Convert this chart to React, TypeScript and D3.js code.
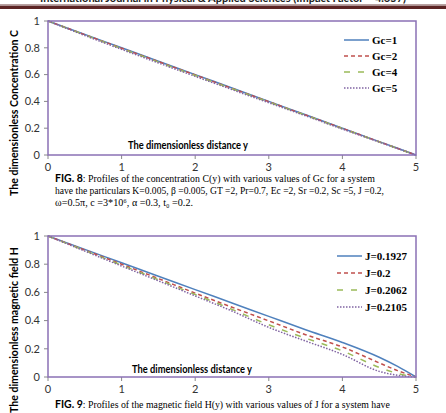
import React, { useEffect, useRef } from 'react';
import * as d3 from 'd3';

// distance y (x axis) for the concentration panel
const distanceC = [0, 0.5, 1, 1.5, 2, 2.5, 3, 3.5, 4, 4.5, 5];
const gc1 = [1, 0.9, 0.8, 0.7, 0.6, 0.5, 0.4, 0.3, 0.2, 0.1, 0];
const gc2 = [1, 0.898, 0.797, 0.697, 0.597, 0.497, 0.398, 0.298, 0.199, 0.099, 0];
const gc4 = [1, 0.896, 0.794, 0.693, 0.593, 0.494, 0.395, 0.296, 0.197, 0.098, 0];
const gc5 = [1, 0.892, 0.788, 0.687, 0.587, 0.488, 0.39, 0.292, 0.194, 0.097, 0];
const gcLabels = ['Gc=1', 'Gc=2', 'Gc=4', 'Gc=5'];

// distance y for the magnetic field panel
const distanceH = [0, 0.5, 1, 1.5, 2, 2.5, 3, 3.5, 4, 4.5, 4.75, 5];
const j1 = [1, 0.905, 0.81, 0.715, 0.62, 0.525, 0.43, 0.335, 0.245, 0.14, 0.075, 0];
const j2 = [1, 0.9, 0.8, 0.698, 0.595, 0.495, 0.398, 0.3, 0.213, 0.1, 0.045, 0];
const j3 = [1, 0.897, 0.793, 0.69, 0.585, 0.48, 0.37, 0.275, 0.185, 0.068, 0.025, 0];
const j4 = [1, 0.893, 0.787, 0.682, 0.575, 0.468, 0.352, 0.255, 0.16, 0.04, 0.012, 0];
const jLabels = ['J=0.1927', 'J=0.2', 'J=0.2062', 'J=0.2105'];

const xTicks = [0, 1, 2, 3, 4, 5];
const yTicks = [0, 0.2, 0.4, 0.6, 0.8, 1];

const colors = ['#4F81BD', '#C0504D', '#9BBB59', '#8064A2'];
const dashes = ['none', '4,3', '6,8', '1.5,1.5'];

const frameColor = '#8a70b5';
const sans = 'Lato, "Open Sans", sans-serif';
const serif = '"Liberation Serif", "DejaVu Serif", serif';

interface Panel {
  top: number;
  bottom: number;
  xs: number[];
  series: number[][];
  labels: string[];
  yTitle: string;
  yTitleCenter: number;
  legendX: number;
  legendY: number;
  legendStep: number;
  distX: number;
  distY: number;
}

function drawPanel(svg: d3.Selection<SVGSVGElement, unknown, null, undefined>, p: Panel) {
  const x = d3.scaleLinear().domain([0, 5]).range([48, 416]);
  const y = d3.scaleLinear().domain([0, 1]).range([p.bottom, p.top]);
  const g = svg.append('g');

  // y ticks
  g.selectAll('.ytick')
    .data(yTicks)
    .enter().append('line')
    .attr('x1', 44).attr('x2', 48)
    .attr('y1', d => y(d)).attr('y2', d => y(d))
    .attr('stroke', '#888').attr('stroke-width', 1);

  g.selectAll('.ylab')
    .data(yTicks)
    .enter().append('text')
    .attr('x', 40)
    .attr('y', d => y(d))
    .attr('dy', '0.35em')
    .attr('text-anchor', 'end')
    .style('font-family', sans)
    .style('font-size', '11px')
    .style('fill', '#333')
    .text(d => d3.format('')(d));

  // x ticks
  g.selectAll('.xtick')
    .data(xTicks)
    .enter().append('line')
    .attr('x1', d => x(d)).attr('x2', d => x(d))
    .attr('y1', p.bottom).attr('y2', p.bottom + 4)
    .attr('stroke', '#888').attr('stroke-width', 1);

  g.selectAll('.xlab')
    .data(xTicks)
    .enter().append('text')
    .attr('x', d => x(d))
    .attr('y', p.bottom + 12)
    .attr('dy', '0.35em')
    .attr('text-anchor', 'middle')
    .style('font-family', sans)
    .style('font-size', '11px')
    .style('fill', '#333')
    .text(d => String(d));

  // lines
  const line = d3.line<number>()
    .x((d, i) => x(p.xs[i]))
    .y(d => y(d))
    .curve(d3.curveMonotoneX);

  p.series.forEach((s, i) => {
    g.append('path')
      .attr('d', line(s))
      .attr('fill', 'none')
      .attr('stroke', colors[i])
      .attr('stroke-width', 1.5)
      .attr('stroke-dasharray', dashes[i]);
  });

  // plot frame
  g.append('rect')
    .attr('x', x(0)).attr('y', y(1))
    .attr('width', x(5) - x(0)).attr('height', y(0) - y(1))
    .attr('fill', 'none')
    .attr('stroke', frameColor)
    .attr('stroke-width', 1.5);

  // legend
  p.labels.forEach((lab, i) => {
    const ly = p.legendY + i * p.legendStep;
    g.append('line')
      .attr('x1', p.legendX).attr('x2', p.legendX + 25)
      .attr('y1', ly).attr('y2', ly)
      .attr('stroke', colors[i])
      .attr('stroke-width', 1.5)
      .attr('stroke-dasharray', dashes[i]);
    g.append('text')
      .attr('x', p.legendX + 28)
      .attr('y', ly)
      .attr('dy', '0.35em')
      .style('font-family', serif)
      .style('font-size', '11px')
      .style('font-weight', 'bold')
      .style('fill', '#000')
      .text(lab);
  });

  // inner x title
  g.append('text')
    .attr('x', p.distX)
    .attr('y', p.distY)
    .attr('textLength', 120)
    .attr('lengthAdjust', 'spacingAndGlyphs')
    .style('font-family', sans)
    .style('font-size', '10.5px')
    .style('font-weight', 'bold')
    .style('fill', '#000')
    .text('The dimensionless distance y');

  // y title
  g.append('text')
    .attr('transform', `translate(18, ${p.yTitleCenter}) rotate(-90)`)
    .attr('text-anchor', 'middle')
    .attr('textLength', 166)
    .attr('lengthAdjust', 'spacingAndGlyphs')
    .style('font-family', sans)
    .style('font-size', '11px')
    .style('font-weight', 'bold')
    .style('fill', '#000')
    .text(p.yTitle);
}

function caption(
  svg: d3.Selection<SVGSVGElement, unknown, null, undefined>,
  yPos: number,
  fig: string,
  rest: string,
  restLen: number
) {
  const t = svg.append('text').attr('x', 55).attr('y', yPos);
  t.append('tspan')
    .style('font-family', sans)
    .style('font-size', '10.5px')
    .style('font-weight', 'bold')
    .text(fig);
  t.append('tspan')
    .style('font-family', serif)
    .style('font-size', '10.5px')
    .attr('textLength', restLen)
    .attr('lengthAdjust', 'spacingAndGlyphs')
    .text(rest);
}

function plainLine(
  svg: d3.Selection<SVGSVGElement, unknown, null, undefined>,
  yPos: number,
  txt: string,
  len: number
) {
  svg.append('text')
    .attr('x', 55).attr('y', yPos)
    .attr('textLength', len)
    .attr('lengthAdjust', 'spacingAndGlyphs')
    .style('font-family', serif)
    .style('font-size', '10.5px')
    .text(txt);
}

export default function App() {
  const svgRef = useRef<SVGSVGElement>(null);

  useEffect(() => {
    if (!svgRef.current) return;
    const svg = d3.select(svgRef.current);
    svg.selectAll('*').remove();

    svg.append('rect').attr('width', 446).attr('height', 413).attr('fill', '#fff');

    // journal header (cut off at the top)
    svg.append('text')
      .attr('x', 223).attr('y', 2)
      .attr('text-anchor', 'middle')
      .style('font-family', sans)
      .style('font-size', '11px')
      .style('font-weight', 'bold')
      .style('fill', '#222')
      .text('International Journal in Physical & Applied Sciences (Impact Factor – 4.657)');
    svg.append('rect').attr('x', 0).attr('y', 4).attr('width', 446).attr('height', 1).attr('fill', '#b8a0a0');
    svg.append('rect').attr('x', 0).attr('y', 5.5).attr('width', 446).attr('height', 3.5).attr('fill', '#5c2424');

    drawPanel(svg, {
      top: 21, bottom: 155,
      xs: distanceC,
      series: [gc1, gc2, gc4, gc5],
      labels: gcLabels,
      yTitle: 'The dimensionless Concentration C',
      yTitleCenter: 113,
      legendX: 344, legendY: 40, legendStep: 16,
      distX: 128, distY: 149,
    });

    caption(svg, 182, 'FIG. 8', ':  Profiles of the concentration C(y) with various values of Gc for a system', 292);
    plainLine(svg, 194, 'have the particulars K=0.005, β =0.005, GT =2, Pr=0.7, Ec =2, Sr =0.2, Sc =5, J =0.2,', 329);
    plainLine(svg, 206, 'ω=0.5π, c =3*10⁶, α =0.3, t₀ =0.2.', 138);

    drawPanel(svg, {
      top: 236, bottom: 377,
      xs: distanceH,
      series: [j1, j2, j3, j4],
      labels: jLabels,
      yTitle: 'The dimensionless magnetic field H',
      yTitleCenter: 330,
      legendX: 337, legendY: 256, legendStep: 17,
      distX: 132, distY: 373,
    });

    caption(svg, 408, 'FIG. 9', ':  Profiles of the magnetic field H(y) with various values of J for a system have', 307);
  }, []);

  return (
    <svg
      ref={svgRef}
      width={446}
      height={413}
      viewBox="0 0 446 413"
      style={{ position: 'absolute', left: 0, top: 0 }}
    />
  );
}
